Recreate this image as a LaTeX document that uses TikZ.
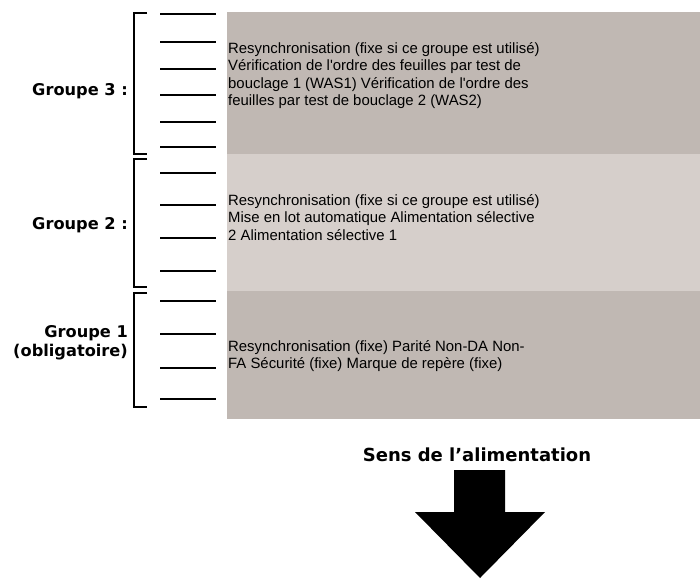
\documentclass[tikz,border=0pt]{standalone}
\usepackage{fontspec}
\setmainfont{Liberation Sans}
\newfontfamily\verdana{DejaVu Sans}
\usetikzlibrary{positioning}

\definecolor{bandDark}{HTML}{C0B8B3}
\definecolor{bandLight}{HTML}{D6CFCB}

\begin{document}
\begin{tikzpicture}[x=1pt, y=-1pt,
    band/.style={rectangle, anchor=north west, inner sep=0pt, minimum width=473pt},
    desc/.style={anchor=base west, align=left, inner sep=2pt, font=\fontsize{14.9}{17.5}\selectfont},
    grouplabel/.style={anchor=base east, align=right, inner sep=1pt, font=\verdana\bfseries\fontsize{16.2}{19}\selectfont},
    tick/.style={line width=2pt},
    bracket/.style={line width=2pt}]

    \useasboundingbox (0,0) rectangle (700,578);

    % bands
    \node [band, fill=bandDark, minimum height=142pt] (band3) at (227,12) {};
    \node [band, fill=bandLight, minimum height=137pt] (band2) at (227,154) {};
    \node [band, fill=bandDark, minimum height=128pt] (band1) at (227,291) {};

    % descriptions (placed at the baseline of their last line)
    \node [desc] (desc3) at (226,105.5) {Resynchronisation (fixe si ce groupe est utilisé)\\
        Vérification de l\textquotesingle ordre des feuilles par test de\\
        bouclage 1 (WAS1) Vérification de l\textquotesingle ordre des\\
        feuilles par test de bouclage 2 (WAS2)};
    \node [desc] (desc2) at (226,240) {Resynchronisation (fixe si ce groupe est utilisé)\\
        Mise en lot automatique Alimentation sélective\\
        2 Alimentation sélective 1};
    \node [desc] (desc1) at (226,368.5) {Resynchronisation (fixe) Parité Non-DA Non-\\
        FA Sécurité (fixe) Marque de repère (fixe)};

    % group labels
    \node [grouplabel] (group3) at (129,95.5) {Groupe 3 :};
    \node [grouplabel] (group2) at (129,229) {Groupe 2 :};
    \node [grouplabel] (group1) at (129,356.5) {Groupe 1\\(obligatoire)};

    % brackets
    \draw [bracket] (147,13) -| (134,154) -- (147,154);
    \draw [bracket] (147,159) -| (134,287) -- (147,287);
    \draw [bracket] (147,293) -| (134,407) -- (147,407);

    % ticks
    \foreach \y in {14,42,69,95,122,147,173,205,238,271,301,334,368,399}
        \draw [tick] (160,\y) -- (216,\y);

    % feed direction
    \node [anchor=base, inner sep=0pt, font=\verdana\bfseries\fontsize{18}{21}\selectfont] (feed) at (477,461.5) {Sens de l’alimentation};
    \fill [black] (454,470) -- (505,470) -- (505,512) -- (545,512) -- (480,578) -- (415,512) -- (454,512) -- cycle;
\end{tikzpicture}
\end{document}
